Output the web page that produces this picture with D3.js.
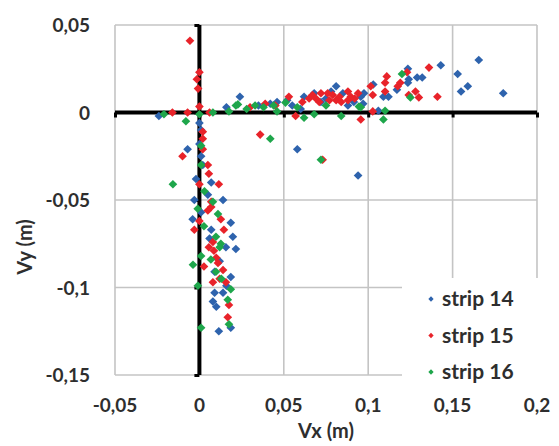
<!DOCTYPE html>
<html><head><meta charset="utf-8">
<script src="https://cdn.jsdelivr.net/npm/d3@7"></script>
<style>
html,body{margin:0;padding:0;background:#fff;}
text{font-family:Lato,"Open Sans",sans-serif;font-weight:700;fill:#2e2e2e;}
</style></head>
<body><svg id="c" width="559" height="446"></svg>
<script>
const xTicks = [-0.05, 0, 0.05, 0.1, 0.15, 0.2];
const yTicks = [0.05, 0, -0.05, -0.1, -0.15];
const xTickLabels = ["-0,05", "0", "0,05", "0,1", "0,15", "0,2"];
const yTickLabels = ["0,05", "0", "-0,05", "-0,1", "-0,15"];
const seriesNames = ["strip 14", "strip 15", "strip 16"];
const seriesColors = ["#2e63ad", "#e8232a", "#1ea64b"];

const strip14 = [
[-0.024,-0.002],[0.024,0.009],[0.016,0.003],[0.035,0.004],[0.042,0.005],[0.046,0.006],[0.055,0.004],[0.062,0.009],[0.068,0.011],[0.075,0.008],[0.081,0.015],[0.085,0.011],[0.0915,0.006],[0.0956,0.009],[0.0975,0.011],[0.103,0.016],[0.106,0.001],[0.109,0.009],[0.112,0.009],[0.117,0.013],[0.1235,0.025],[0.124,0.019],[0.1235,0.017],[0.129,0.02],[0.132,0.02],[0.143,0.027],[0.153,0.022],[0.155,0.012],[0.159,0.015],[0.1655,0.030],[0.18,0.011],[0.058,-0.021],[0.094,-0.036],[0.072,0.006],[0.088,0.004],[0.06,0.002],[0.078,0.012],[0.097,0.005],[0.052,0.007],
[0,-0.006],[0.001,-0.010],[0,-0.018],[-0.007,-0.021],[0.001,-0.025],[-0.002,-0.038],[0.007,-0.040],[0.005,-0.047],[0.014,-0.050],[-0.003,-0.050],[-0.004,-0.061],[0.0186,-0.063],[0.007,-0.067],[0.0198,-0.071],[0.0157,-0.077],[0.0216,-0.078],[0.009,-0.091],[0.0186,-0.094],[0.009,-0.103],[0.014,-0.103],[0.008,-0.108],[0.010,-0.111],[0.0186,-0.123],[0.0115,-0.125],[0.002,-0.03],[0.012,-0.085],[0.006,-0.072],[0.016,-0.099],[0.001,-0.057]
];
const strip15 = [
[-0.0056,0.041],[0,0.023],[-0.0015,0.019],[-0.0008,0.0137],[0,0.0034],[-0.016,0],[-0.007,0],[0.006,0],[0.036,-0.0126],[0.03,0.003],[0.039,0.005],[0.045,0.004],[0.053,0.009],[0.057,-0.002],[0.061,0.006],[0.067,0.010],[0.071,0.006],[0.072,0.011],[0.076,0.011],[0.077,0.007],[0.081,0.007],[0.084,0.006],[0.088,0.012],[0.088,0.007],[0.0897,0.009],[0.094,0.011],[0.0956,-0.004],[0.1015,0.015],[0.1027,0.010],[0.1027,0.0006],[0.110,0.012],[0.110,0.017],[0.111,0.0206],[0.1175,0.015],[0.119,0.017],[0.123,0.023],[0.124,0.010],[0.128,0.012],[0.130,0.0086],[0.136,0.0257],[0.141,0.009],[0.073,-0.027],[0.065,0.008],[0.079,0.010],[0.083,0.009],[0.092,0.008],[0.069,0.008],
[0.002,-0.011],[0.002,-0.015],[0.002,-0.021],[-0.010,-0.025],[0.005,-0.030],[0.0056,-0.035],[0,-0.041],[0.0115,-0.041],[0.007,-0.051],[0.007,-0.054],[0.005,-0.056],[0,-0.062],[0.0127,-0.061],[-0.003,-0.067],[0.0145,-0.067],[0.008,-0.074],[0.0056,-0.077],[0.0086,-0.079],[0.0027,-0.088],[0.011,-0.086],[0.014,-0.090],[0.008,-0.097],[0.0157,-0.097],[0.0175,-0.110],[0.0168,-0.117],[0.010,-0.083],[0.012,-0.095]
];
const strip16 = [
[-0.021,-0.001],[-0.008,-0.005],[0,-0.001],[0.008,0],[0.0175,0.0006],[0.0228,0.0046],[0.0216,0.004],[0.028,0.002],[0.033,0.004],[0.038,0.003],[0.042,-0.015],[0.046,0.0006],[0.051,0.0057],[0.062,-0.003],[0.068,-0.001],[0.072,-0.027],[0.075,0.004],[0.084,-0.002],[0.0945,0.0034],[0.0956,0.003],[0.109,-0.004],[0.110,0.001],[0.120,0.022],[0.125,0.0086],[0.058,0.003],[0.044,0.004],
[0.001,-0.019],[-0.0157,-0.041],[0.008,-0.051],[-0.001,-0.055],[0.011,-0.058],[0.0027,-0.065],[0.0098,-0.071],[0.0127,-0.075],[0.012,-0.077],[0.0068,-0.084],[-0.0038,-0.087],[0.001,-0.082],[0.0098,-0.091],[-0.0009,-0.099],[0.0186,-0.101],[0.0168,-0.107],[0.0175,-0.121],[0.001,-0.123],[0.013,-0.095],[0.003,-0.045],[0.001,-0.03]
];
const allSeries = [strip14, strip15, strip16];

const svg = d3.select("#c");
const pLeft = 115, pRight = 537, pTop = 25, pBottom = 375;
const x = d3.scaleLinear().domain([-0.05, 0.2]).range([pLeft, pRight]);
const y = d3.scaleLinear().domain([-0.15, 0.05]).range([pBottom, pTop]);

// gridlines
const grid = svg.append("g").attr("stroke", "#c4c4c4").attr("stroke-width", 1.6);
xTicks.forEach(v => grid.append("line").attr("x1", x(v)).attr("x2", x(v)).attr("y1", pTop).attr("y2", pBottom));
yTicks.forEach(v => grid.append("line").attr("x1", pLeft).attr("x2", pRight).attr("y1", y(v)).attr("y2", y(v)));

// thick axes through origin
const axX = svg.append("g").attr("transform", `translate(0,${y(0)})`)
  .call(d3.axisBottom(x).tickValues(xTicks).tickSize(5).tickFormat(""));
axX.select(".domain").attr("stroke", "#000").attr("stroke-width", 4).attr("d", `M${pLeft},0H${pRight}`);
axX.selectAll(".tick line").attr("stroke", "#000").attr("stroke-width", 3);
const axY = svg.append("g").attr("transform", `translate(${x(0)},0)`)
  .call(d3.axisLeft(y).tickValues(yTicks).tickSize(5).tickFormat(""));
axY.select(".domain").attr("stroke", "#000").attr("stroke-width", 4).attr("d", `M0,${pTop}V${pBottom}`);
axY.selectAll(".tick line").attr("stroke", "#000").attr("stroke-width", 3);

// tick labels
svg.append("g").selectAll("text").data(xTicks).join("text")
  .attr("x", d => x(d)).attr("y", 412).attr("text-anchor", "middle")
  .attr("font-size", 19).text((d, i) => xTickLabels[i]);
svg.append("g").selectAll("text").data(yTicks).join("text")
  .attr("x", 90).attr("y", d => y(d) + 7).attr("text-anchor", "end")
  .attr("font-size", 19).text((d, i) => yTickLabels[i]);

// axis titles
svg.append("text").attr("x", 326).attr("y", 438).attr("text-anchor", "middle").attr("font-size", 20).text("Vx (m)");
svg.append("text").attr("transform", "translate(32,247) rotate(-90)").attr("text-anchor", "middle").attr("font-size", 20).text("Vy (m)");

// points (diamonds = rotated squares)
const diamond = d3.symbol().type(d3.symbolSquare).size(38);
allSeries.forEach((s, i) => {
  svg.append("g").selectAll("path").data(s).join("path")
    .attr("d", diamond)
    .attr("transform", d => `translate(${x(d[0])},${y(d[1])}) rotate(45)`)
    .attr("fill", seriesColors[i]);
});

// legend
const lg = svg.append("g");
lg.append("rect").attr("x", 402).attr("y", 278).attr("width", 145).attr("height", 114).attr("fill", "#fff");
seriesNames.forEach((n, i) => {
  const cy = 299 + i * 36.5;
  lg.append("path").attr("d", d3.symbol().type(d3.symbolSquare).size(14)).attr("transform", `translate(431,${cy}) rotate(45)`).attr("fill", seriesColors[i]);
  lg.append("text").attr("x", 442).attr("y", cy + 7).attr("font-size", 21).text(n);
});
</script></body></html>
